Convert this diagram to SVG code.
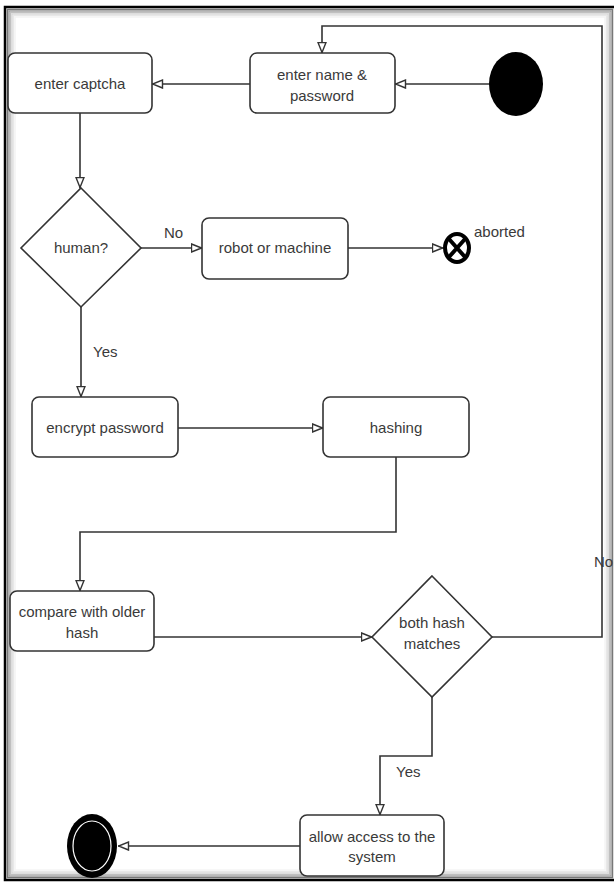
<svg xmlns="http://www.w3.org/2000/svg" width="614" height="882" viewBox="0 0 614 882">
<style>
.box{fill:#fff;stroke:#333;stroke-width:1.6}
.ln{fill:none;stroke:#333;stroke-width:1.6}
.t{font-family:"Liberation Sans",Arial,sans-serif;font-size:15px;fill:#3a3a3a;text-anchor:middle}
.l{font-family:"Liberation Sans",Arial,sans-serif;font-size:15px;fill:#3a3a3a}
</style>
<defs>
<marker id="ah" viewBox="0 0 12 10" refX="11.5" refY="5" markerWidth="12" markerHeight="10" markerUnits="userSpaceOnUse" orient="auto">
<path d="M1,1 L11,5 L1,9 Z" fill="#fff" stroke="#333" stroke-width="1.4"/>
</marker>
</defs>
<rect width="614" height="882" fill="#fff"/>
<g id="frame">
<rect x="7.5" y="9.5" width="605" height="868" fill="none" stroke="#777" stroke-width="1.5"/>
<rect x="9" y="11" width="602" height="865" fill="none" stroke="#a0a0a0" stroke-width="1.5"/>
<rect x="10.5" y="12.5" width="599" height="862" fill="none" stroke="#c0c0c0" stroke-width="1.5"/>
<rect x="12" y="14" width="596" height="859" fill="none" stroke="#d8d8d8" stroke-width="1.5"/>
<rect x="13.5" y="15.5" width="593" height="856" fill="none" stroke="#e8e8e8" stroke-width="1.5"/>
<rect x="15" y="17" width="590" height="853" fill="none" stroke="#f4f4f4" stroke-width="1.5"/>
<rect x="5" y="7" width="640" height="873" fill="none" stroke="#000" stroke-width="2.5"/>
</g>
<g id="connectors">
<path class="ln" d="M489,84 L395,84" marker-end="url(#ah)"/>
<path class="ln" d="M250,84 L152,84" marker-end="url(#ah)"/>
<path class="ln" d="M80,113 L80,188" marker-end="url(#ah)"/>
<path class="ln" d="M141,248 L202,248" marker-end="url(#ah)"/>
<text class="l" x="164" y="238">No</text>
<path class="ln" d="M348,248 L443,248" marker-end="url(#ah)"/>
<path class="ln" d="M81,307 L81,397" marker-end="url(#ah)"/>
<text class="l" x="93" y="357">Yes</text>
<path class="ln" d="M178,428 L323,428" marker-end="url(#ah)"/>
<path class="ln" d="M396,457 L396,532 L80,532 L80,591" marker-end="url(#ah)"/>
<path class="ln" d="M154,637 L372,637" marker-end="url(#ah)"/>
<path class="ln" d="M492,637 L602,637 L602,26 L322,26 L322,53" marker-end="url(#ah)"/>
<text class="l" x="594" y="567">No</text>
<path class="ln" d="M432,697 L432,756 L380,756 L380,815" marker-end="url(#ah)"/>
<text class="l" x="396" y="777">Yes</text>
<path class="ln" d="M300,846 L118,846" marker-end="url(#ah)"/>
</g>
<g id="start"><ellipse cx="516" cy="84" rx="27" ry="32" fill="#000"/></g>
<g id="enter-name"><rect class="box" x="250" y="53" width="145" height="60" rx="7"/>
<text class="t" x="322" y="80">enter name &amp;</text><text class="t" x="322" y="101">password</text></g>
<g id="enter-captcha"><rect class="box" x="8" y="53" width="144" height="60" rx="7"/>
<text class="t" x="80" y="89">enter captcha</text></g>
<g id="human"><polygon class="box" points="81,188 141,248 81,307 21,248"/>
<text class="t" x="81" y="253">human?</text></g>
<g id="robot"><rect class="box" x="202" y="218" width="146" height="61" rx="7"/>
<text class="t" x="275" y="253">robot or machine</text></g>
<g id="aborted"><ellipse cx="457" cy="248" rx="12" ry="14" fill="#fff" stroke="#000" stroke-width="4"/>
<path d="M449,239 L465,257 M465,239 L449,257" stroke="#000" stroke-width="4"/>
<text class="l" x="474" y="237">aborted</text></g>
<g id="encrypt"><rect class="box" x="32" y="397" width="146" height="60" rx="7"/>
<text class="t" x="105" y="433">encrypt password</text></g>
<g id="hashing"><rect class="box" x="323" y="397" width="146" height="60" rx="7"/>
<text class="t" x="396" y="433">hashing</text></g>
<g id="compare"><rect class="box" x="10" y="591" width="144" height="60" rx="7"/>
<text class="t" x="82" y="617">compare with older</text><text class="t" x="82" y="638">hash</text></g>
<g id="both-hash"><polygon class="box" points="432,576 492,637 432,697 372,637"/>
<text class="t" x="432" y="628">both hash</text><text class="t" x="432" y="649">matches</text></g>
<g id="allow"><rect class="box" x="300" y="815" width="144" height="61" rx="7"/>
<text class="t" x="372" y="842">allow access to the</text><text class="t" x="372" y="862">system</text></g>
<g id="end"><ellipse cx="92" cy="846" rx="25" ry="32" fill="#000"/>
<ellipse cx="92" cy="846" rx="19" ry="25" fill="none" stroke="#fff" stroke-width="1.2"/></g>
</svg>
